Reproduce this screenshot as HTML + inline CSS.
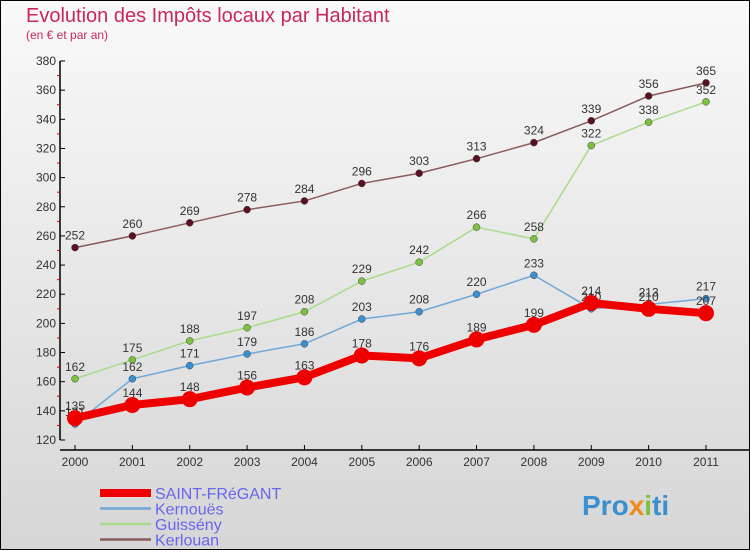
<!DOCTYPE html>
<html><head><meta charset="utf-8"><style>
body{margin:0}
#c{width:750px;height:550px;position:relative;font-family:"Liberation Sans",sans-serif}
</style></head><body>
<div id="c">
<svg id="s" width="750" height="550" xmlns="http://www.w3.org/2000/svg">
<defs><linearGradient id="bg" x1="0" y1="0" x2="0" y2="1"><stop offset="0" stop-color="#f9f9f9"/><stop offset="1" stop-color="#d6d6d6"/></linearGradient></defs>
<rect x="0.5" y="0.5" width="749" height="549" fill="url(#bg)" stroke="#000"/>
<text x="26" y="22" font-size="20" fill="#c8285a">Evolution des Impôts locaux par Habitant</text>
<text x="26" y="39" font-size="12" fill="#c8285a">(en € et par an)</text>
<g id="axes"></g><g id="series"></g><g id="legend"></g>
<text x="582" y="515" font-size="28" font-weight="bold" fill="#3a8fd0">Pro<tspan fill="#f08a1c">x</tspan><tspan fill="#7cc142">i</tspan>ti</text>
</svg></div>
<script>
const years=["2000","2001","2002","2003","2004","2005","2006","2007","2008","2009","2010","2011"];
const yTicks=[120,140,160,180,200,220,240,260,280,300,320,340,360,380];
const saintFregant=[135,144,148,156,163,178,176,189,199,214,210,207];
const kernoues=[131,162,171,179,186,203,208,220,233,210,213,217];
const guisseny=[162,175,188,197,208,229,242,266,258,322,338,352];
const kerlouan=[252,260,269,278,284,296,303,313,324,339,356,365];
const NS="http://www.w3.org/2000/svg";
const X=i=>75+i*(706-75)/11;
const Y=v=>440-(v-120)*(440-61)/260;
function mk(t,a,p){const e=document.createElementNS(NS,t);for(const k in a)e.setAttribute(k,a[k]);p.appendChild(e);return e;}
const ax=document.getElementById('axes');
let l=mk('line',{x1:60,y1:61,x2:60,y2:440,stroke:'#000','stroke-width':1.5},ax);


l=mk('line',{x1:60,y1:450,x2:750,y2:450,stroke:'#000','stroke-width':1.5},ax);


yTicks.forEach((v,i)=>{
 mk('line',{x1:60,y1:Y(v),x2:65,y2:Y(v),stroke:'#000'},ax);
 if(i<yTicks.length-1)mk('line',{x1:57,y1:Y(v+10),x2:60,y2:Y(v+10),stroke:'#d00'},ax);
 const t=mk('text',{x:56,y:Y(v)+4,'font-size':12,fill:'#333','text-anchor':'end'},ax);t.textContent=v;
 
 
});
years.forEach((y,i)=>{
 mk('line',{x1:X(i),y1:445,x2:X(i),y2:450,stroke:'#000'},ax);
 const t=mk('text',{x:X(i),y:466,'font-size':12,fill:'#333','text-anchor':'middle'},ax);t.textContent=y;
 
 
});
const sg=document.getElementById('series');
const defs=[
 {d:kerlouan,c:'#8a5a5a',p:'#5a1020',w:1.5,r:3.5,n:'kerlouan'},
 {d:guisseny,c:'#a8dc8a',p:'#7cc142',w:1.5,r:3.5,n:'guisseny'},
 {d:kernoues,c:'#6fa8d8',p:'#3a8fd0',w:1.5,r:3.5,n:'kernoues'},
 {d:saintFregant,c:'#ee0000',p:'#ee0000',w:8,r:8,n:'saint-fregant'}];
defs.forEach(s=>{
 const g=mk('g',{},sg);
 
 
 const pl=mk('polyline',{points:s.d.map((v,i)=>X(i)+','+Y(v)).join(' '),fill:'none',stroke:s.c,'stroke-width':s.w,'stroke-linejoin':'round'},g);
 
 
 s.d.forEach((v,i)=>{
  const c=mk('circle',{cx:X(i),cy:Y(v),r:s.r,fill:s.p,stroke:s.r>5?'none':'#444','stroke-width':0.5},g);
  
  
  const t=mk('text',{x:X(i),y:Y(v)-8,'font-size':12,fill:'#333','text-anchor':'middle'},g);t.textContent=v;
  
  
 });
});
const lg=document.getElementById('legend');
[['SAINT-FRéGANT','#ee0000',8],['Kernouës','#6fa8d8',2.5],['Guissény','#a8dc8a',2.5],['Kerlouan','#8a5a5a',2.5]].forEach((e,i)=>{
 const y=493+i*15.5;
 const g=mk('g',{},lg);
 
 
 mk('line',{x1:100,y1:y,x2:151,y2:y,stroke:e[1],'stroke-width':e[2]},g);
 const t=mk('text',{x:155,y:y+6,'font-size':16,fill:'#6666ee'},g);t.textContent=e[0];
});
</script>
</body></html>
